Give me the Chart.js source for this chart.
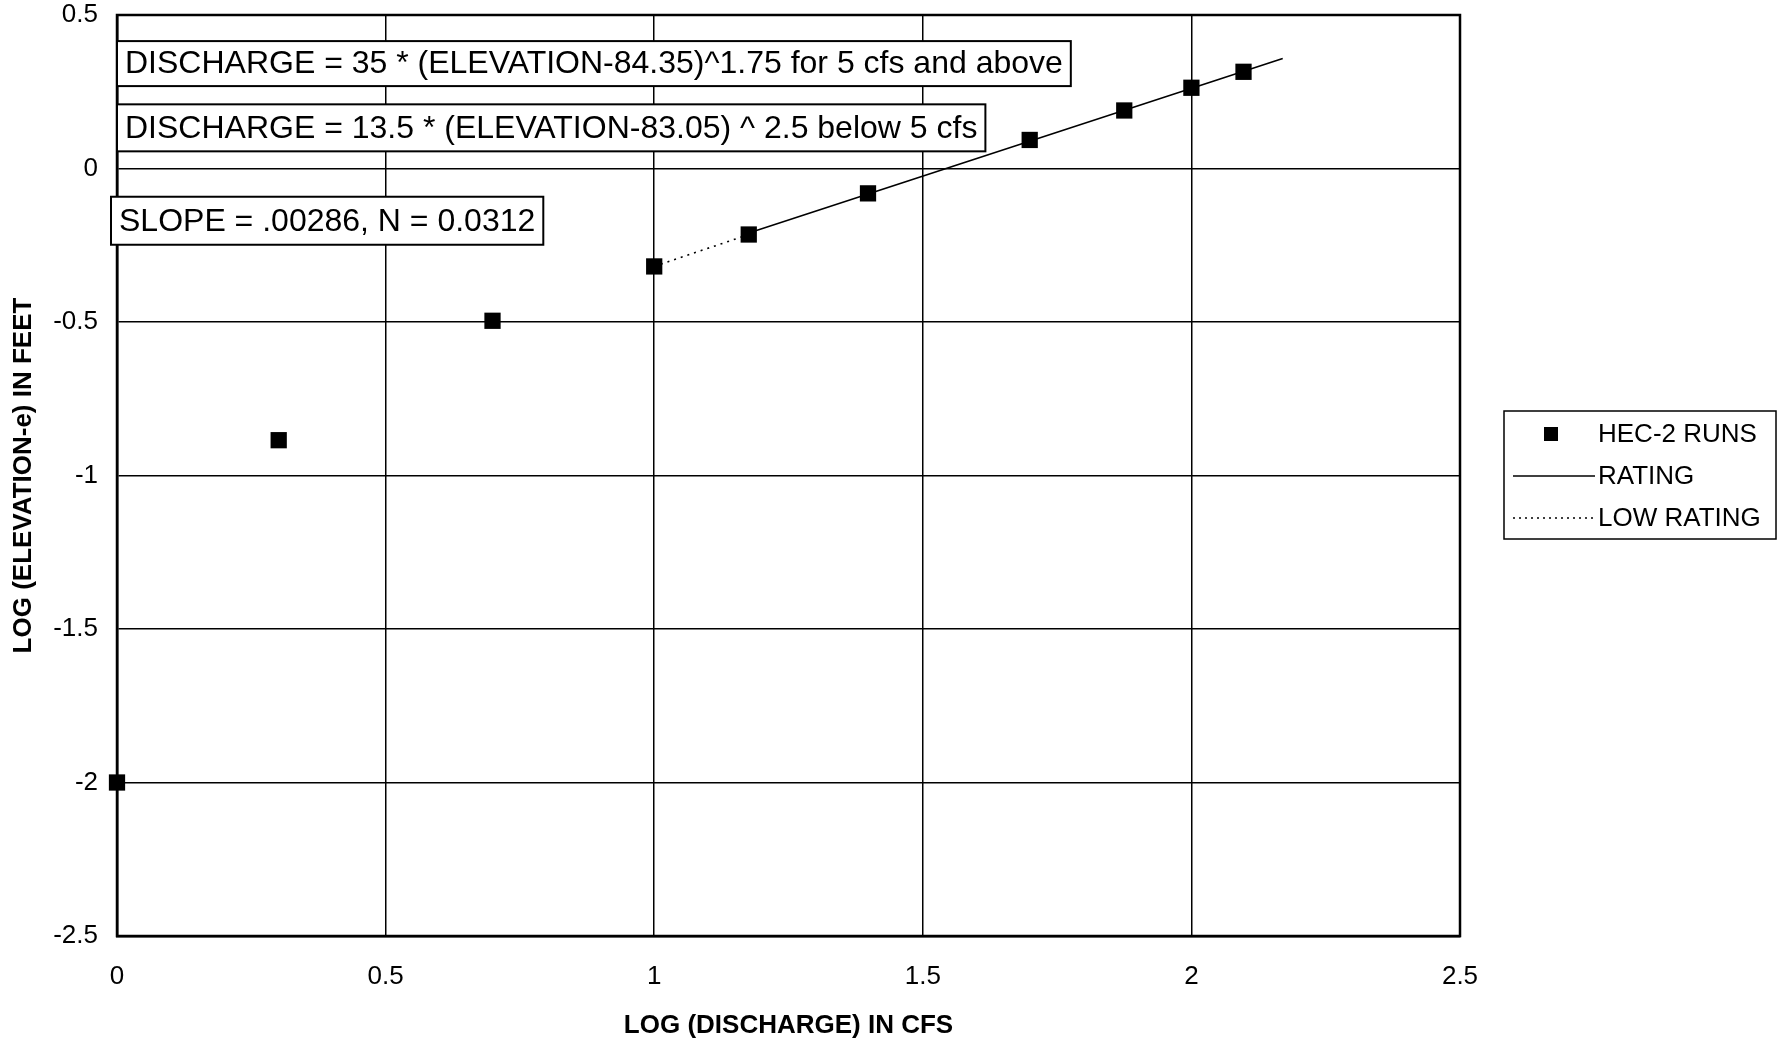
<!DOCTYPE html>
<html>
<head>
<meta charset="utf-8">
<script src="https://cdn.jsdelivr.net/npm/chart.js@4/dist/chart.umd.min.js"></script>
<style>
  html, body { margin: 0; padding: 0; background: #fff; }
  #wrap { width: 1777px; height: 1043px; }
</style>
</head>
<body>
<div id="wrap"><canvas id="c" width="1777" height="1043"></canvas></div>
<script>
// ---- data ----
const xTickLabels = ['0', '0.5', '1', '1.5', '2', '2.5'];
const yTickLabels = ['-2.5', '-2', '-1.5', '-1', '-0.5', '0', '0.5'];
const hecX = [0, 0.301, 0.699, 1.0, 1.176, 1.398, 1.699, 1.875, 2.0, 2.097];
const hecY = [-2.0, -0.885, -0.496, -0.319, -0.215, -0.081, 0.093, 0.189, 0.263, 0.315];
const ratingX = [1.176, 2.17];
const ratingY = [-0.21, 0.358];
const lowX = [1.0, 1.176];
const lowY = [-0.319, -0.215];
const notes = [
  'DISCHARGE = 35 * (ELEVATION-84.35)^1.75 for 5 cfs and above',
  'DISCHARGE = 13.5 * (ELEVATION-83.05) ^ 2.5 below 5 cfs',
  'SLOPE = .00286, N = 0.0312'
];
const legendLabels = ['HEC-2 RUNS', 'RATING', 'LOW RATING'];

const toPts = (xs, ys) => xs.map((x, i) => ({ x: x, y: ys[i] }));
const FONT = '"Liberation Sans", Arial, Helvetica, sans-serif';

const overlay = {
  id: 'overlay',
  afterDraw(chart) {
    const ctx = chart.ctx;
    const a = chart.chartArea;
    const xs = chart.scales.x, ys = chart.scales.y;
    ctx.save();
    ctx.strokeStyle = '#000';
    ctx.lineWidth = 2.5;
    ctx.strokeRect(a.left, a.top, a.right - a.left, a.bottom - a.top);

    const boxes = [
      { x: 0, y: 0.415, h: 45, dx: 0 },
      { x: 0, y: 0.209, h: 47, dx: 0 },
      { x: 0, y: -0.092, h: 48, dx: -6 }
    ];
    ctx.font = '32px ' + FONT;
    ctx.textBaseline = 'middle';
    ctx.textAlign = 'left';
    boxes.forEach((b, i) => {
      const left = xs.getPixelForValue(b.x) + b.dx;
      const top = ys.getPixelForValue(b.y);
      const w = ctx.measureText(notes[i]).width + 16;
      ctx.fillStyle = '#fff';
      ctx.fillRect(left, top, w, b.h);
      ctx.lineWidth = 2;
      ctx.strokeStyle = '#000';
      ctx.strokeRect(left, top, w, b.h);
      ctx.fillStyle = '#000';
      ctx.fillText(notes[i], left + 8, top + b.h / 2 + 1);
    });

    const lx = 1504, ly = 411, lw = 272, lh = 128;
    ctx.lineWidth = 1.5;
    ctx.strokeStyle = '#000';
    ctx.fillStyle = '#fff';
    ctx.fillRect(lx, ly, lw, lh);
    ctx.strokeRect(lx, ly, lw, lh);
    ctx.font = '26px ' + FONT;
    ctx.fillStyle = '#000';
    const rows = [434, 476, 518];
    ctx.fillRect(1551 - 7, rows[0] - 7, 14, 14);
    ctx.beginPath();
    ctx.lineWidth = 1.5;
    ctx.setLineDash([]);
    ctx.moveTo(1513, rows[1]); ctx.lineTo(1595, rows[1]);
    ctx.stroke();
    ctx.beginPath();
    ctx.setLineDash([2, 4]);
    ctx.moveTo(1513, rows[2]); ctx.lineTo(1595, rows[2]);
    ctx.stroke();
    ctx.setLineDash([]);
    legendLabels.forEach((t, i) => ctx.fillText(t, 1598, rows[i] + 1));
    ctx.restore();
  }
};

new Chart(document.getElementById('c'), {
  type: 'scatter',
  data: {
    datasets: [
      {
        label: legendLabels[2],
        data: toPts(lowX, lowY),
        showLine: true,
        borderColor: '#000',
        borderWidth: 1.6,
        borderDash: [2, 5],
        pointRadius: 0,
        order: 3
      },
      {
        label: legendLabels[1],
        data: toPts(ratingX, ratingY),
        showLine: true,
        borderColor: '#000',
        borderWidth: 1.6,
        pointRadius: 0,
        order: 2
      },
      {
        label: legendLabels[0],
        data: toPts(hecX, hecY),
        showLine: false,
        pointStyle: 'rect',
        pointRadius: 11.5,
        backgroundColor: '#000',
        borderColor: '#000',
        borderWidth: 0,
        clip: false,
        order: 1
      }
    ]
  },
  options: {
    responsive: false,
    animation: false,
    devicePixelRatio: 1,
    layout: { padding: { left: 8, top: 15, right: 317, bottom: 0 } },
    plugins: {
      legend: { display: false },
      tooltip: { enabled: false }
    },
    scales: {
      x: {
        type: 'linear',
        min: 0, max: 2.5,
        afterFit(s) { s.height = 107; s.paddingLeft = 0; s.paddingRight = 0; },
        afterBuildTicks(s) { s.ticks = xTickLabels.map(v => ({ value: parseFloat(v) })); },
        ticks: {
          color: '#000',
          font: { family: FONT, size: 26 },
          padding: 25,
          callback: (v, i) => xTickLabels[i]
        },
        grid: { color: '#000', lineWidth: 1.5, drawTicks: false },
        border: { color: '#000', width: 2.5 },
        title: {
          display: true,
          text: 'LOG (DISCHARGE) IN CFS',
          color: '#000',
          font: { family: FONT, size: 26, weight: 'bold' },
          padding: { top: 0, bottom: 2 }
        }
      },
      y: {
        type: 'linear',
        min: -2.5, max: 0.5,
        afterFit(s) { s.width = 109; s.paddingTop = 0; s.paddingBottom = 0; },
        afterBuildTicks(s) { s.ticks = yTickLabels.map(v => ({ value: parseFloat(v) })); },
        ticks: {
          color: '#000',
          font: { family: FONT, size: 26 },
          padding: 19,
          callback: (v, i) => yTickLabels[i]
        },
        grid: { color: '#000', lineWidth: 1.5, drawTicks: false },
        border: { color: '#000', width: 2.5 },
        title: {
          display: true,
          text: 'LOG (ELEVATION-e) IN FEET',
          color: '#000',
          font: { family: FONT, size: 26, weight: 'bold' },
          padding: { top: 0, bottom: 0 }
        }
      }
    }
  },
  plugins: [overlay]
});
</script>
</body>
</html>
